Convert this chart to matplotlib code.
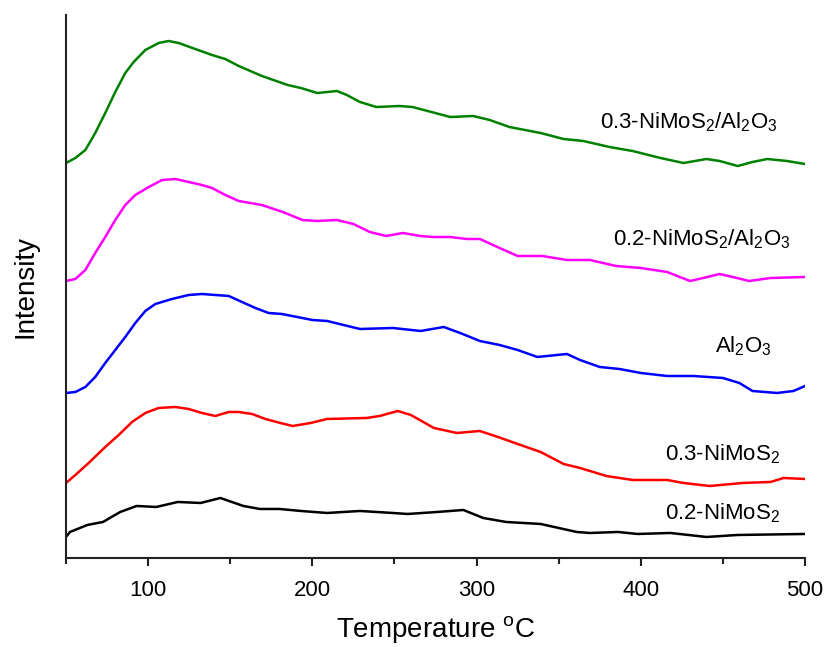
import matplotlib
matplotlib.use("Agg")
import matplotlib.pyplot as plt
from matplotlib.ticker import MultipleLocator

plt.rcParams['font.family'] = ['Liberation Sans', 'DejaVu Sans']
plt.rcParams['mathtext.default'] = 'regular'

# TPD traces (temperature in degC, intensity in arbitrary offset units)
t_03_al = [50, 55.7, 61.8, 67.8, 73.9, 80, 86.1, 91.2, 98.3, 106.4, 112.5, 118.6, 128.7,
           138.9, 147, 155.2, 169.3, 185, 193, 203, 215, 221, 229, 239, 253, 261, 284,
           298, 308, 320, 339, 353, 365, 381, 395, 412, 426, 440, 448, 459, 468, 477,
           489, 500]
i_03_al = [395, 400, 408, 425, 445, 466, 485, 496, 508, 515, 517, 515, 509,
           503, 499, 492, 482, 473, 470, 465, 467, 463, 456, 451, 452, 451, 441,
           442, 438, 431, 425, 419, 417, 411, 407, 400, 395, 399, 397, 392, 396, 399,
           397, 394]

t_02_al = [50, 55.7, 61.8, 67.8, 73.9, 80, 86.1, 92.2, 100.4, 108.5, 116.6, 124.7, 132.8,
           138.9, 147, 155.2, 169.3, 182, 194, 203, 215, 225, 235, 245, 255, 266, 273,
           284, 294, 302, 314, 325, 340, 355, 369, 385, 400, 416, 430, 438, 448, 456,
           466, 479, 500]
i_02_al = [277, 279, 288, 305, 321, 338, 353, 363, 371, 378, 379, 376, 373,
           370, 363, 357, 353, 346, 338, 337, 338, 334, 326, 322, 325, 322, 321,
           321, 319, 319, 310, 302, 302, 298, 298, 292, 290, 286, 277, 280, 284, 281,
           277, 280, 281]

t_al = [50, 55.7, 61.8, 67.8, 73.9, 80, 86.1, 92.2, 98.3, 104.4, 114.5, 124.7, 132.8,
        149.1, 157.2, 165.3, 173.4, 181.5, 200, 209, 229, 249, 266, 280, 290, 302, 314,
        325, 337, 355, 363, 375, 387, 400, 416, 432, 450, 460, 468, 483, 493, 500]
i_al = [165, 166, 171, 181, 195, 208, 221, 235, 247, 254, 259, 263, 264,
        262, 256, 250, 245, 244, 238, 237, 229, 230, 227, 231, 225, 217, 213,
        208, 201, 204, 198, 191, 189, 185, 182, 182, 180, 175, 167, 165, 167, 172]

t_03 = [50, 55.7, 63.8, 73.9, 82.1, 90.2, 98.3, 106.4, 116.6, 124.7, 132.8, 140.9,
        149.1, 155.2, 163.3, 171.4, 180.5, 188, 199, 209, 233, 241, 252, 260, 274, 288,
        302, 313, 325, 339, 353, 363, 379, 395, 416, 426, 442, 462, 479, 487, 500]
i_03 = [75, 83, 95, 111, 123, 136, 145, 150, 151, 149, 145, 142,
        146, 146, 144, 139, 135, 132, 135, 139, 140, 142, 147, 143, 130, 125,
        127, 121, 114, 106, 94, 90, 82, 78, 78, 75, 72, 75, 76, 80, 79]

t_02 = [50, 52.4, 63, 72.5, 83, 93, 105, 118, 132, 144, 158, 168, 180, 193, 209, 229,
        249, 258, 276, 292, 304, 318, 339, 361, 369, 386, 398, 418, 440, 459, 500]
i_02 = [21, 26, 33, 36, 46, 52, 51, 56, 55, 60, 52, 49, 49, 47, 45, 47,
        45, 44, 46, 48, 40, 36, 34, 26, 25, 26, 24, 25, 21, 23, 24]

fig = plt.figure(figsize=(8.25, 6.47), dpi=100)
ax = fig.add_axes([0.08, 0.1376, 0.8958, 0.8392])

lw = 1.8
ax.plot(t_03_al, i_03_al, color='#008000', lw=lw)
ax.plot(t_02_al, i_02_al, color='#ff00ff', lw=lw)
ax.plot(t_al, i_al, color='#0000ff', lw=lw)
ax.plot(t_03, i_03, color='#ff0000', lw=lw)
ax.plot(t_02, i_02, color='black', lw=lw)

fs = 16
ax.text(375, 430, '0.3-NiMoS$_2$/Al$_2$O$_3$', fontsize=fs, va='baseline')
ax.text(383, 313, '0.2-NiMoS$_2$/Al$_2$O$_3$', fontsize=fs, va='baseline')
ax.text(445, 206, 'Al$_2$O$_3$', fontsize=fs, va='baseline')
ax.text(415, 98, '0.3-NiMoS$_2$', fontsize=fs, va='baseline')
ax.text(415, 39, '0.2-NiMoS$_2$', fontsize=fs, va='baseline')

ax.set_xlim(50, 500)
ax.set_ylim(0, 543)
ax.spines['top'].set_visible(False)
ax.spines['right'].set_visible(False)
for s in ('left', 'bottom'):
    ax.spines[s].set_linewidth(1.5)
    ax.spines[s].set_color('#222222')
ax.set_yticks([])
ax.xaxis.set_major_locator(MultipleLocator(100))
ax.xaxis.set_minor_locator(MultipleLocator(50))
ax.tick_params(axis='x', which='major', direction='out', length=6, width=1.5,
               labelsize=fs, pad=10, color='#222222')
ax.tick_params(axis='x', which='minor', direction='out', length=4, width=1.5,
               color='#222222')

ax.set_xlabel('Temperature $^{o}$C', fontsize=20, labelpad=9)
ax.set_ylabel('Intensity', fontsize=20, labelpad=20)

fig.savefig('out.png', dpi=100)
